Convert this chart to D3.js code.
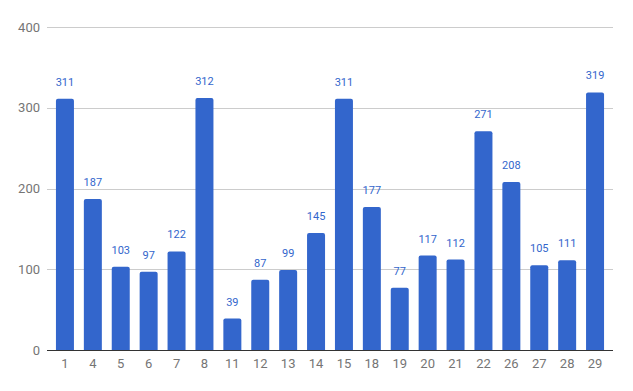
<!DOCTYPE html>
<html>
<head>
<meta charset="utf-8">
<script src="https://cdn.jsdelivr.net/npm/d3@7/dist/d3.min.js"></script>
<style>
  body { margin: 0; background: #fff; }
  text { font-family: Roboto, Arial, sans-serif; }
</style>
</head>
<body>
<svg id="graphic-svg" width="633" height="391"></svg>
<script>
var categories = ["1","4","5","6","7","8","11","12","13","14","15","18","19","20","21","22","26","27","28","29"];
var values = [311,187,103,97,122,312,39,87,99,145,311,177,77,117,112,271,208,105,111,319];
var yTicks = [0,100,200,300,400];

var svg = d3.select("#graphic-svg");
var margin = { left: 47, right: 20, top: 27, bottom: 41 };
var h = 391 - margin.top - margin.bottom;

var barColor = "#3366cc";
var gridColor = "#cccccc";
var tickColor = "#757575";

var xScale = d3.scaleBand()
               .domain(categories)
               .range([51, 609])
               .paddingInner(0.355)
               .paddingOuter(0.1775);
var yScale = d3.scaleLinear()
               .domain([0, 400])
               .range([margin.top + h, margin.top]);

// gridlines + y labels
svg.selectAll(".grid")
   .data(yTicks.slice(1))
   .enter()
   .append("line")
   .attr("x1", 47)
   .attr("x2", 613)
   .attr("y1", function(d) { return Math.round(yScale(d)) + 0.5; })
   .attr("y2", function(d) { return Math.round(yScale(d)) + 0.5; })
   .style("stroke", gridColor);
svg.selectAll(".ylab")
   .data(yTicks)
   .enter()
   .append("text")
   .attr("x", 40)
   .attr("y", function(d) { return yScale(d) + 4.5; })
   .style("text-anchor", "end")
   .style("font-size", "13px")
   .style("fill", tickColor)
   .text(function(d) { return d; });

// bars, rounded on top
var r = 2;
svg.selectAll(".bar")
   .data(values)
   .enter()
   .append("path")
   .attr("class", "bar")
   .attr("d", function(d, i) {
     var x0 = xScale(categories[i]), w = xScale.bandwidth();
     var y0 = yScale(d), y1 = yScale(0);
     return "M" + x0 + "," + y1 + "V" + (y0 + r) + "Q" + x0 + "," + y0 + " " + (x0 + r) + "," + y0 +
            "H" + (x0 + w - r) + "Q" + (x0 + w) + "," + y0 + " " + (x0 + w) + "," + (y0 + r) + "V" + y1 + "Z";
   })
   .style("fill", barColor);

// value labels
svg.selectAll(".vlab")
   .data(values)
   .enter()
   .append("text")
   .attr("x", function(d, i) { return xScale(categories[i]) + xScale.bandwidth() / 2; })
   .attr("y", function(d) { return yScale(d) - 13; })
   .style("text-anchor", "middle")
   .style("font-size", "11px")
   .style("fill", barColor)
   .text(function(d) { return d; });

// baseline
svg.append("line")
   .attr("x1", 47)
   .attr("x2", 613)
   .attr("y1", yScale(0) + 0.5)
   .attr("y2", yScale(0) + 0.5)
   .style("stroke", "#333333");

// x labels
svg.selectAll(".xlab")
   .data(categories)
   .enter()
   .append("text")
   .attr("x", function(d) { return xScale(d) + xScale.bandwidth() / 2; })
   .attr("y", yScale(0) + 18)
   .style("text-anchor", "middle")
   .style("font-size", "13px")
   .style("fill", tickColor)
   .text(function(d) { return d; });
</script>
</body>
</html>
